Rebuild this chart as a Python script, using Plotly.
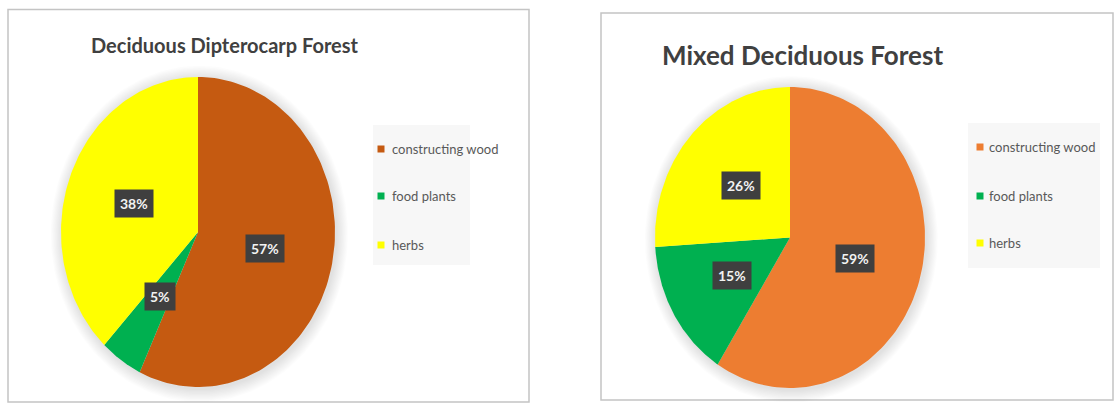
import numpy as np
import plotly.graph_objects as go

# Uses of forest plants, share of species (%)
categories = ["constructing wood", "food plants", "herbs"]
ddf_values = [57, 5, 38]   # Deciduous Dipterocarp Forest
mdf_values = [59, 15, 26]  # Mixed Deciduous Forest
titles = ["Deciduous Dipterocarp Forest", "Mixed Deciduous Forest"]

ddf_colors = ["#c55a11", "#00b050", "#ffff00"]
mdf_colors = ["#ed7d31", "#00b050", "#ffff00"]

W, H = 1115, 405
PAD = 1.1  # axis range around the unit pie, leaves room for the shadow


def px(x):
    return x / W


def py(y):
    return 1 - y / H


def slice_path(a0, a1, n=120):
    # angles in degrees, clockwise from 12 o'clock
    t = np.radians(np.linspace(a0, a1, n))
    xs = np.concatenate([[0], np.sin(t), [0]])
    ys = np.concatenate([[0], np.cos(t), [0]])
    return xs, ys


def ellipse(scale, dx, dy, n=180):
    t = np.linspace(0, 2 * np.pi, n)
    return scale * np.sin(t) + dx, scale * np.cos(t) + dy


fig = go.Figure()
annotations = []
shapes = []

pies = [
    dict(values=ddf_values, colors=ddf_colors, xa="x", ya="y", cx=198, cy=232, rx=137, ry=155,
         title=titles[0], tx=225, ty=45, tsize=20,
         box=(373, 125, 470, 265), items=(381, 390, [149, 196, 245]),
         frame=(8, 9.5, 529, 402)),
    dict(values=mdf_values, colors=mdf_colors, xa="x2", ya="y2", cx=790, cy=237.5, rx=135, ry=150.5,
         title=titles[1], tx=802, ty=55, tsize=26,
         box=(968, 123, 1100, 268), items=(980, 987, [147, 196, 243]),
         frame=(601, 13, 1113, 400)),
]

for i, p in enumerate(pies):
    # soft drop shadow under the pie
    for k in range(1, 11):
        sx, sy = ellipse(1 + 0.0085 * k, 0.01, -0.012)
        fig.add_trace(go.Scatter(x=sx, y=sy, mode="lines", fill="toself",
                                 fillcolor="rgba(0,0,0,0.013)", line=dict(width=0),
                                 hoverinfo="skip", showlegend=False,
                                 xaxis=p["xa"], yaxis=p["ya"]))

    total = sum(p["values"])
    start = 0.0
    for name, v, c in zip(categories, p["values"], p["colors"]):
        end = start + 360.0 * v / total
        xs, ys = slice_path(start, end)
        fig.add_trace(go.Scatter(x=xs, y=ys, mode="lines", fill="toself",
                                 fillcolor=c, line=dict(width=0, color=c),
                                 name=name, hoverinfo="name", showlegend=False,
                                 xaxis=p["xa"], yaxis=p["ya"]))
        mid = np.radians((start + end) / 2)
        annotations.append(dict(
            x=0.5 * np.sin(mid), y=0.5 * np.cos(mid), xref=p["xa"], yref=p["ya"],
            text=f"<b>{v}%</b>", showarrow=False,
            font=dict(family="Lato", size=14, color="#f2f2f2"),
            bgcolor="#3f3f3f", borderpad=5))
        start = end

    # chart title
    annotations.append(dict(
        x=px(p["tx"]), y=py(p["ty"]), xref="paper", yref="paper",
        text=f"<b>{p['title']}</b>", showarrow=False,
        font=dict(family="Lato", size=p["tsize"], color="#404040"),
        xanchor="center", yanchor="middle"))

    # legend panel
    bx0, by0, bx1, by1 = p["box"]
    shapes.append(dict(type="rect", xref="paper", yref="paper",
                       x0=px(bx0), x1=px(bx1), y0=py(by1), y1=py(by0),
                       fillcolor="#f7f7f7", line=dict(width=0), layer="below"))
    sq_x, txt_x, item_y = p["items"]
    for name, c, yy in zip(categories, p["colors"], item_y):
        shapes.append(dict(type="rect", xref="paper", yref="paper",
                           x0=px(sq_x - 3.5), x1=px(sq_x + 3.5),
                           y0=py(yy + 3.5), y1=py(yy - 3.5),
                           fillcolor=c, line=dict(width=0)))
        annotations.append(dict(
            x=px(txt_x), y=py(yy), xref="paper", yref="paper",
            text=name, showarrow=False, xanchor="left", yanchor="middle",
            font=dict(family="Lato", size=13, color="#595959")))

    # chart frame
    fx0, fy0, fx1, fy1 = p["frame"]
    shapes.append(dict(type="rect", xref="paper", yref="paper",
                       x0=px(fx0), x1=px(fx1), y0=py(fy1), y1=py(fy0),
                       line=dict(color="#c4c4c4", width=1.5), layer="below"))

axis_common = dict(visible=False, range=[-PAD, PAD], fixedrange=True)
l, r = pies
fig.update_layout(
    width=W, height=H,
    margin=dict(l=0, r=0, t=0, b=0),
    paper_bgcolor="white", plot_bgcolor="rgba(0,0,0,0)",
    showlegend=False,
    xaxis=dict(domain=[px(l["cx"] - l["rx"] * PAD), px(l["cx"] + l["rx"] * PAD)], **axis_common),
    yaxis=dict(domain=[py(l["cy"] + l["ry"] * PAD), py(l["cy"] - l["ry"] * PAD)], **axis_common),
    xaxis2=dict(domain=[px(r["cx"] - r["rx"] * PAD), px(r["cx"] + r["rx"] * PAD)], **axis_common),
    yaxis2=dict(domain=[py(r["cy"] + r["ry"] * PAD), py(r["cy"] - r["ry"] * PAD)], **axis_common),
    annotations=annotations,
    shapes=shapes,
)

fig.write_html("out.html")
